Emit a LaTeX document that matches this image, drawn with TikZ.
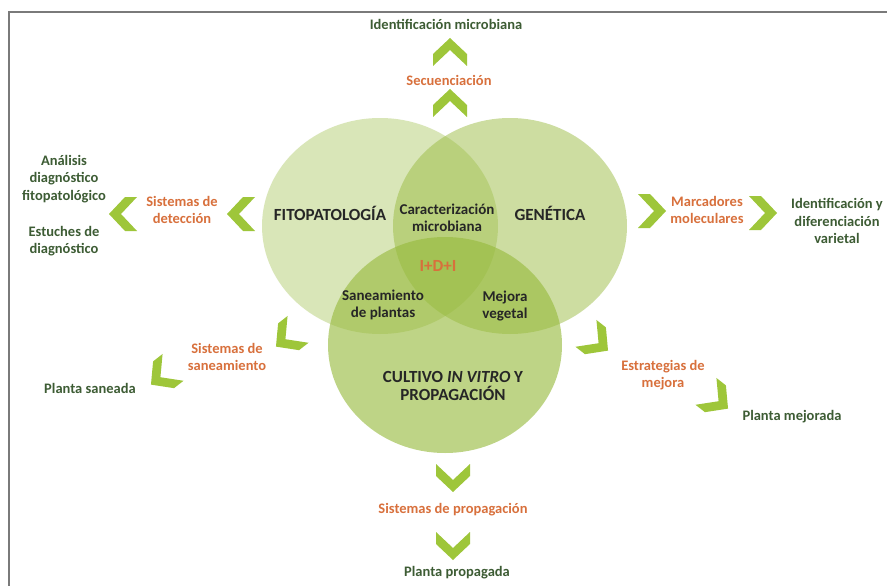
\documentclass[tikz,border=0pt]{standalone}
\usepackage{fontspec}
\setmainfont{Carlito}
\definecolor{chevcol}{HTML}{9EC63A}
\definecolor{orangetxt}{HTML}{D8703C}
\definecolor{greentxt}{HTML}{3D5C34}
\definecolor{circbase}{HTML}{97BA3C}
\definecolor{framecol}{HTML}{7A7A7A}
\tikzset{
  chev/.pic={\fill[chevcol] (-14,-17) -- (-2,-17) -- (14,0) -- (-2,17) -- (-14,17) -- (2,0) -- cycle;},
  orangelbl/.style={text=orangetxt, font=\bfseries\fontsize{14.5}{16.5}\selectfont, align=center, inner sep=1pt},
  greenlbl/.style={text=greentxt, font=\bfseries\fontsize{14.5}{17.5}\selectfont, align=center, inner sep=1pt},
  biglbl/.style={text=black!85, font=\bfseries\fontsize{17}{18}\selectfont, align=center, inner sep=1pt},
  innerlbl/.style={text=black!85, font=\bfseries\fontsize{15}{17.5}\selectfont, align=center, inner sep=1pt},
}
\begin{document}
\begin{tikzpicture}[x=1pt,y=-1pt]
\useasboundingbox (0,0) rectangle (887,586);
\fill[white] (0,0) rectangle (887,586);
% frame
\draw[framecol, line width=1.2pt] (9,586) -- (9,12) -- (887,12);
% circles
\fill[circbase, opacity=0.36] (380,226) ellipse [x radius=118, y radius=108];
\fill[circbase, opacity=0.48] (510,226) ellipse [x radius=117, y radius=108];
\fill[circbase, opacity=0.62] (445,345) ellipse [x radius=117, y radius=108];
% circle labels
\node[biglbl] (fito) at (330,213) {FITOPATOLOGÍA};
\node[biglbl] (gen) at (550,213) {GENÉTICA};
\node[innerlbl] (carac) at (447,218) {Caracterización\\microbiana};
\node[text=orangetxt, font=\bfseries\fontsize{17}{18}\selectfont] (idi) at (438,266) {I+D+I};
\node[innerlbl] (san) at (383,305) {Saneamiento\\de plantas};
\node[innerlbl] (mej) at (505,306) {Mejora\\vegetal};
\node[biglbl] (cult) at (453,386) {CULTIVO \textit{IN VITRO} Y\\PROPAGACIÓN};
% top branch
\node[greenlbl] (idmic) at (446,24) {Identificación microbiana};
\pic[rotate=90] at (450,103) {chev};
\node[orangelbl] (sec) at (449,80) {Secuenciación};
\pic[rotate=90] at (450,52) {chev};
% left branch
\pic[rotate=180] at (241,214) {chev};
\node[orangelbl] (sdet) at (182,210) {Sistemas de\\detección};
\pic[rotate=180] at (123,214) {chev};
\node[greenlbl] (anal) at (64,179) {Análisis\\diagnóstico\\fitopatológico};
\node[greenlbl] (estu) at (64,241) {Estuches de\\diagnóstico};
% right branch
\pic at (652,211) {chev};
\node[orangelbl] (marc) at (707,210) {Marcadores\\moleculares};
\pic at (763,213) {chev};
\node[greenlbl] (idvar) at (837,221) {Identificación y\\diferenciación\\varietal};
% lower-left branch
\pic[rotate=218] at (287,338) {chev};
\node[orangelbl] (ssan) at (227,357) {Sistemas de\\saneamiento};
\pic[rotate=218] at (162,376) {chev};
\node[greenlbl] (psan) at (90,388) {Planta saneada};
% lower-right branch
\pic[rotate=-38] at (597,342) {chev};
\node[orangelbl] (estr) at (663,375) {Estrategias de\\mejora};
\pic[rotate=-38] at (717,400) {chev};
\node[greenlbl] (pmej) at (792,417) {Planta mejorada};
% bottom branch
\pic[rotate=-90] at (453,478) {chev};
\node[orangelbl] (sprop) at (453,510) {Sistemas de propagación};
\pic[rotate=-90] at (453,546) {chev};
\node[greenlbl] (pprop) at (457,573) {Planta propagada};
\end{tikzpicture}
\end{document}
